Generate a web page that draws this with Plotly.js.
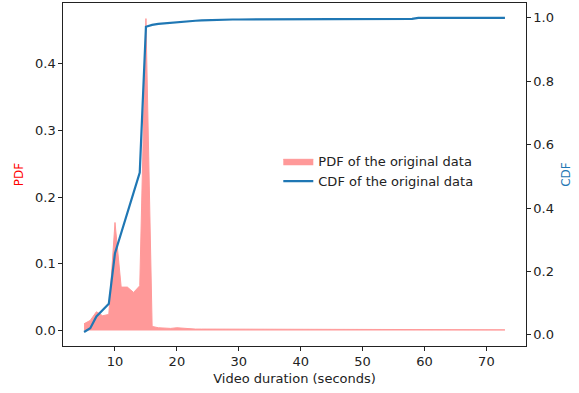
<!DOCTYPE html>
<html><head><meta charset="utf-8">
<script src="https://cdn.plot.ly/plotly-3.0.1.min.js"></script>
<style>html,body{margin:0;padding:0;background:#fff}#c{width:579px;height:393px}</style>
</head><body><div id="c"></div>
<script>
const durations = [5,6,7,8,9,10,11,12,13,14,15,16,17,18,19,20,21,22,23,24,25,26,27,28,29,30,31,32,33,34,35,36,37,38,39,40,41,42,43,44,45,46,47,48,49,50,51,52,53,54,55,56,57,58,59,60,61,62,63,64,65,66,67,68,69,70,71,72,73];
const pdfValues = [0.010,0.015,0.028,0.022,0.024,0.162,0.065,0.065,0.057,0.067,0.468,0.006,0.004,0.003,0.003,0.004,0.003,0.002,0.002,0.002,0.002,0.001,0.001,0.001,0.001,0.002,0.001,0.001,0.001,0.001,0.001,0.001,0.001,0.001,0.001,0.001,0.001,0.001,0.001,0.001,0.001,0.001,0.001,0.001,0.001,0.001,0.001,0.001,0.001,0.001,0.001,0.001,0.001,0.001,0.002,0.001,0.001,0.001,0.001,0.001,0.001,0.001,0.001,0.001,0.001,0.001,0.001,0.001,0.001];
const cdfValues = [0.009,0.021,0.058,0.078,0.098,0.258,0.323,0.388,0.445,0.512,0.972,0.978,0.981,0.983,0.985,0.987,0.989,0.990,0.991,0.992,0.993,0.993,0.994,0.994,0.995,0.995,0.995,0.995,0.995,0.995,0.995,0.995,0.995,0.996,0.996,0.996,0.996,0.996,0.996,0.996,0.996,0.996,0.996,0.997,0.997,0.997,0.997,0.997,0.997,0.997,0.997,0.997,0.997,0.997,1.0,1.0,1.0,1.0,1.0,1.0,1.0,1.0,1.0,1.0,1.0,1.0,1.0,1.0,1.0];
const pdfTicks = [0.0,0.1,0.2,0.3,0.4];
const cdfTicks = [0.0,0.2,0.4,0.6,0.8,1.0];
const xTicks = [10,20,30,40,50,60,70];

const font = {family:'DejaVu Sans', size:13, color:'#222'};
const traces = [
  {x:durations, y:pdfValues, type:'scatter', mode:'lines', fill:'tozeroy',
   fillcolor:'#ff9999', line:{color:'#ff9999', width:1},
   name:'PDF of the original data', yaxis:'y'},
  {x:durations, y:cdfValues, type:'scatter', mode:'lines',
   line:{color:'#1f77b4', width:2.2},
   name:'CDF of the original data', yaxis:'y2'}
];
const axCommon = {showgrid:false, zeroline:false, showline:true, linecolor:'#222', linewidth:1.2,
  ticks:'outside', ticklen:3.5, tickwidth:1, tickcolor:'#222', tickfont:font};
const layout = {
  width:579, height:393,
  margin:{l:63, r:53, t:3, b:47},
  paper_bgcolor:'#fff', plot_bgcolor:'#fff',
  font:font,
  showlegend:true,
  legend:{x:0.465, y:0.582, xanchor:'left', yanchor:'top', bgcolor:'rgba(0,0,0,0)', font:font, tracegroupgap:0},
  xaxis:Object.assign({}, axCommon, {range:[1.6,76.4], tickvals:xTicks, mirror:true,
    title:{text:'Video duration (seconds)', font:font, standoff:5}}),
  yaxis:Object.assign({}, axCommon, {range:[-0.0234,0.4914], tickvals:pdfTicks, tickformat:'.1f',
    title:{text:'PDF', font:{family:'DejaVu Sans', size:12, color:'#ff0000'}, standoff:8}}),
  yaxis2:Object.assign({}, axCommon, {overlaying:'y', side:'right', range:[-0.035,1.047], tickvals:cdfTicks, tickformat:'.1f',
    title:{text:'CDF', font:{family:'DejaVu Sans', size:12, color:'#1f77b4'}, standoff:8}})
};
Plotly.newPlot('c', traces, layout, {displayModeBar:false, staticPlot:true});
</script>
</body></html>
